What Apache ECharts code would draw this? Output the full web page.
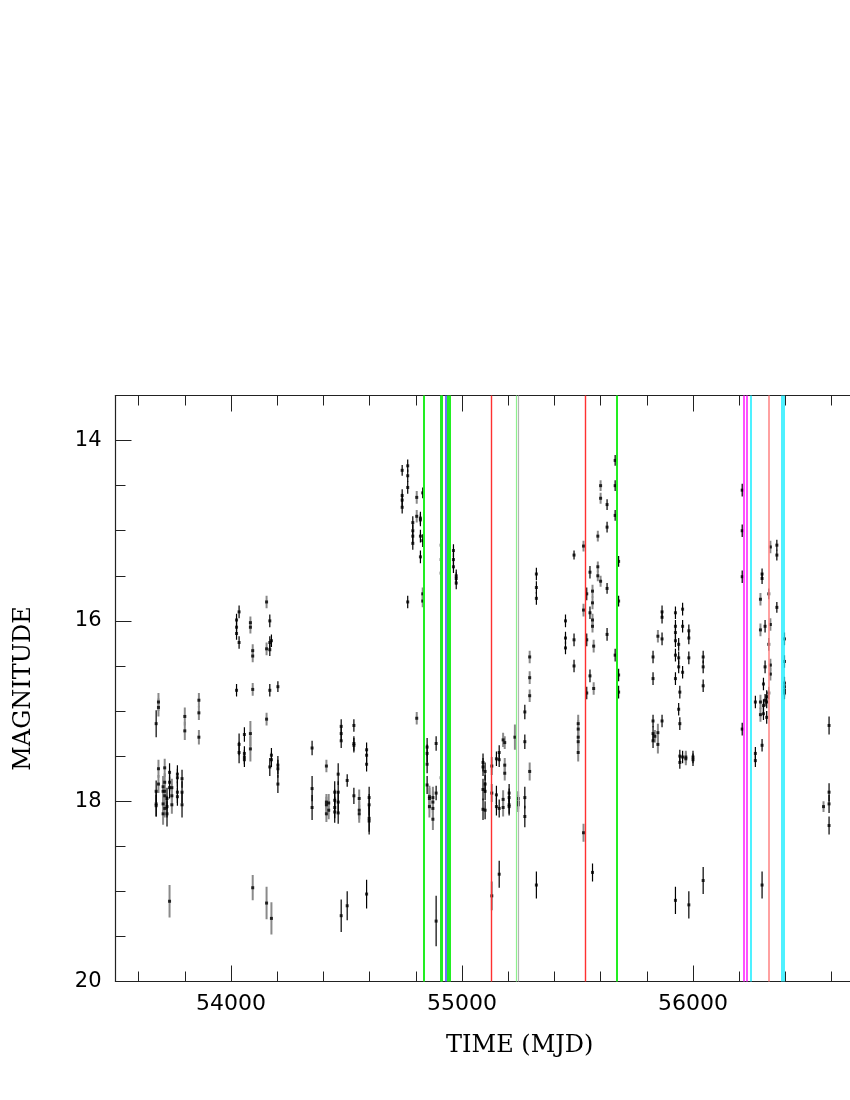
<!DOCTYPE html>
<html>
<head>
<meta charset="utf-8">
<script src="https://cdn.jsdelivr.net/npm/echarts@6/dist/echarts.min.js"></script>
<style>
  html, body { margin: 0; background: #fff; }
  #chart { width: 850px; height: 1100px; }
</style>
</head>
<body>
<div id="chart"></div>
<script>
// tick positions
const xMajor = [54000, 55000, 56000, 57000]
const xMinor = [53600, 53800, 54200, 54400, 54600, 54800, 55200, 55400, 55600, 55800, 56200, 56400, 56600, 56800]
const yMajor = [14, 16, 18, 20]
const yMinor = [14.5, 15, 15.5, 16.5, 17, 17.5, 18.5, 19, 19.5]

// event epochs (MJD), grouped by marker colour
const greenEvents = [54834, 54909, 54914, 54940, 54945, 55668]
const blueEvents = [54928]
const redEvents = [55128, 55535]
const lightGreenEvents = [55236]
const greyEvents = [55245]
const magentaEvents = [56221, 56232]
const cyanEvents = [56248, 56383, 56392]
const salmonEvents = [56328]

// photometry [mjd, mag, err] - first data set (black bars)
const blackPts = [
  [53676, 17.14, 0.15], [53676, 17.89, 0.12], [53676, 18.03, 0.14], [53676, 18.05, 0.12],
  [53723, 17.97, 0.12], [53723, 18.06, 0.12], [53723, 18.14, 0.14],
  [53734, 17.68, 0.1], [53734, 17.79, 0.1], [53734, 17.85, 0.12],
  [53768, 17.70, 0.1], [53768, 17.74, 0.1], [53768, 17.90, 0.12], [53768, 17.95, 0.1],
  [53788, 17.75, 0.1], [53788, 17.90, 0.12], [53788, 18.04, 0.14],
  [54024, 15.99, 0.07], [54024, 16.07, 0.07], [54024, 16.14, 0.07], [54024, 16.77, 0.07],
  [54035, 15.90, 0.07], [54035, 16.24, 0.07], [54035, 17.37, 0.12], [54035, 17.46, 0.12],
  [54058, 17.26, 0.08], [54058, 17.47, 0.08], [54058, 17.51, 0.08], [54058, 17.54, 0.08],
  [54168, 16.00, 0.07], [54168, 16.24, 0.07], [54168, 16.32, 0.07], [54168, 16.77, 0.07], [54168, 17.62, 0.1],
  [54175, 16.22, 0.07], [54175, 17.49, 0.08], [54175, 17.54, 0.08],
  [54203, 16.73, 0.06], [54203, 17.60, 0.1], [54203, 17.64, 0.1], [54203, 17.81, 0.1],
  [54351, 17.41, 0.08], [54351, 17.86, 0.14], [54351, 18.07, 0.14],
  [54449, 17.90, 0.12], [54449, 17.99, 0.12], [54449, 18.07, 0.12], [54449, 18.12, 0.12],
  [54464, 17.70, 0.12], [54464, 17.90, 0.12], [54464, 18.01, 0.12], [54464, 18.13, 0.12],
  [54477, 17.17, 0.08], [54477, 17.25, 0.08], [54477, 17.33, 0.08],
  [54503, 17.77, 0.07],
  [54532, 17.16, 0.07], [54532, 17.36, 0.08], [54532, 17.38, 0.08], [54532, 17.94, 0.09],
  [54587, 17.43, 0.08], [54587, 17.49, 0.08], [54587, 17.59, 0.08],
  [54598, 17.96, 0.12], [54598, 18.04, 0.12], [54598, 18.19, 0.15], [54598, 18.22, 0.15],
  [54477, 19.27, 0.18], [54503, 19.16, 0.16], [54587, 19.03, 0.16],
  [54741, 14.33, 0.06], [54741, 14.61, 0.07], [54741, 14.66, 0.07], [54741, 14.74, 0.07],
  [54765, 14.28, 0.07], [54765, 14.39, 0.07], [54765, 14.52, 0.07], [54765, 15.79, 0.07],
  [54787, 14.91, 0.07], [54787, 15.00, 0.07], [54787, 15.06, 0.07], [54787, 15.14, 0.07],
  [54820, 14.86, 0.07], [54820, 14.88, 0.07], [54820, 15.06, 0.07], [54820, 15.29, 0.07],
  [54830, 14.58, 0.06], [54830, 15.11, 0.07],
  [54910, 15.16, 0.07], [54910, 15.32, 0.07], [54910, 15.47, 0.07],
  [54942, 14.27, 0.06], [54942, 14.34, 0.06],
  [54963, 15.22, 0.07], [54963, 15.32, 0.07], [54963, 15.40, 0.07],
  [54975, 15.50, 0.07], [54975, 15.53, 0.07], [54975, 15.58, 0.07],
  [54849, 17.40, 0.1], [54849, 17.47, 0.1], [54849, 17.59, 0.1], [54849, 17.82, 0.1],
  [54888, 17.36, 0.08], [54888, 17.91, 0.08], [54888, 19.33, 0.28],
  [54910, 17.74, 0.08],
  [55091, 17.57, 0.1], [55091, 17.62, 0.1], [55091, 17.87, 0.12], [55091, 18.09, 0.12],
  [55100, 17.67, 0.1], [55100, 17.81, 0.1], [55100, 17.89, 0.1], [55100, 18.10, 0.1],
  [55149, 17.53, 0.08], [55149, 17.93, 0.1], [55149, 18.06, 0.1],
  [55161, 17.46, 0.08], [55161, 17.54, 0.08], [55161, 18.08, 0.1], [55161, 18.81, 0.15],
  [55204, 17.91, 0.1], [55204, 17.96, 0.1], [55204, 18.04, 0.1], [55204, 18.06, 0.1],
  [55272, 17.01, 0.08], [55272, 17.34, 0.08], [55272, 17.96, 0.12], [55272, 18.17, 0.12],
  [55322, 18.93, 0.15], [55322, 15.48, 0.07], [55322, 15.63, 0.07], [55322, 15.75, 0.07],
  [55448, 16.00, 0.07], [55448, 16.19, 0.07], [55448, 16.30, 0.07],
  [55485, 15.27, 0.05], [55485, 16.21, 0.07], [55485, 16.50, 0.07],
  [55540, 15.70, 0.07], [55540, 16.21, 0.07], [55540, 16.80, 0.07],
  [55554, 15.46, 0.07], [55554, 15.91, 0.07], [55554, 16.61, 0.07],
  [55628, 14.71, 0.06], [55628, 14.96, 0.06], [55628, 15.64, 0.06], [55628, 16.15, 0.07],
  [55663, 14.22, 0.06], [55663, 14.50, 0.06], [55663, 14.83, 0.06], [55663, 16.38, 0.07],
  [55678, 15.34, 0.06], [55678, 15.78, 0.06], [55678, 16.60, 0.07], [55678, 16.79, 0.07],
  [55565, 18.79, 0.1],
  [55827, 16.40, 0.07], [55827, 16.64, 0.07], [55827, 17.11, 0.07], [55827, 17.25, 0.08], [55827, 17.33, 0.08],
  [55866, 15.90, 0.07], [55866, 15.96, 0.07], [55866, 16.20, 0.07], [55866, 17.11, 0.07],
  [55924, 15.91, 0.07], [55924, 16.06, 0.07], [55924, 16.13, 0.07], [55924, 16.22, 0.07], [55924, 16.38, 0.07], [55924, 16.64, 0.07], [55924, 19.10, 0.15],
  [55938, 16.26, 0.07], [55938, 16.41, 0.07], [55938, 16.51, 0.07], [55938, 16.98, 0.07],
  [55943, 16.79, 0.07], [55943, 17.14, 0.07], [55943, 17.50, 0.07], [55943, 17.57, 0.07],
  [55955, 15.87, 0.07], [55955, 16.06, 0.07], [55955, 16.57, 0.07], [55955, 17.51, 0.07],
  [55982, 16.11, 0.07], [55982, 16.19, 0.07], [55982, 16.41, 0.07], [55982, 19.15, 0.15],
  [56000, 17.51, 0.07], [56000, 17.54, 0.07],
  [56044, 16.40, 0.07], [56044, 16.51, 0.07], [56044, 16.72, 0.07], [56044, 18.88, 0.15],
  [56213, 14.55, 0.07], [56213, 15.00, 0.07], [56213, 15.51, 0.07], [56213, 17.20, 0.07],
  [56270, 16.90, 0.07], [56270, 17.47, 0.07], [56270, 17.55, 0.07],
  [56299, 15.48, 0.06], [56299, 15.53, 0.06], [56299, 17.38, 0.07], [56299, 18.93, 0.15],
  [56305, 16.70, 0.07], [56305, 16.94, 0.07], [56305, 17.03, 0.07],
  [56312, 16.06, 0.07], [56312, 16.51, 0.07], [56312, 16.88, 0.07],
  [56319, 16.84, 0.07], [56319, 16.90, 0.07], [56319, 17.07, 0.07],
  [56328, 15.70, 0.06], [56328, 16.26, 0.07], [56328, 16.80, 0.07],
  [56363, 15.16, 0.06], [56363, 15.27, 0.06], [56363, 15.85, 0.06],
  [56396, 16.20, 0.07], [56396, 16.45, 0.07], [56396, 16.69, 0.07], [56396, 16.73, 0.07], [56396, 16.77, 0.07], [56396, 16.80, 0.07],
  [56589, 17.16, 0.1], [56589, 17.90, 0.1], [56589, 18.03, 0.1], [56589, 18.27, 0.1]
]

// second data set (grey bars)
const greyPts = [
  [53686, 16.90, 0.1], [53686, 16.96, 0.1], [53686, 17.64, 0.1], [53686, 17.81, 0.1],
  [53706, 17.84, 0.12], [53706, 17.89, 0.12], [53706, 18.03, 0.12], [53706, 18.14, 0.12],
  [53713, 17.63, 0.1], [53713, 17.79, 0.1], [53713, 17.89, 0.1], [53713, 17.94, 0.1], [53713, 18.08, 0.1],
  [53744, 17.85, 0.1], [53744, 17.94, 0.1], [53744, 18.04, 0.1],
  [53800, 17.06, 0.1], [53800, 17.22, 0.1],
  [53861, 16.88, 0.08], [53861, 17.02, 0.08], [53861, 17.29, 0.08],
  [53734, 19.11, 0.18],
  [54084, 16.02, 0.07], [54084, 16.07, 0.07], [54084, 17.25, 0.14], [54084, 17.42, 0.14],
  [54094, 16.33, 0.07], [54094, 16.39, 0.07], [54094, 16.76, 0.07],
  [54154, 15.79, 0.07], [54154, 16.31, 0.07], [54154, 17.09, 0.07],
  [54094, 18.96, 0.14], [54154, 19.13, 0.18], [54175, 19.30, 0.18],
  [54413, 17.61, 0.07], [54413, 18.01, 0.09], [54413, 18.04, 0.09], [54413, 18.14, 0.09],
  [54423, 18.02, 0.1], [54423, 18.10, 0.1],
  [54555, 17.97, 0.1], [54555, 18.10, 0.1], [54555, 18.14, 0.1],
  [54804, 14.63, 0.07], [54804, 14.84, 0.07], [54830, 15.70, 0.07], [54830, 15.78, 0.07],
  [54804, 17.08, 0.07],
  [54859, 17.95, 0.12], [54859, 17.97, 0.12], [54859, 18.06, 0.12],
  [54874, 17.96, 0.12], [54874, 18.01, 0.12], [54874, 18.08, 0.12], [54874, 18.20, 0.12],
  [54942, 19.02, 0.2],
  [55129, 17.61, 0.1], [55129, 17.91, 0.1], [55129, 19.05, 0.16],
  [55178, 17.32, 0.08], [55178, 17.98, 0.1], [55178, 18.07, 0.1],
  [55185, 17.35, 0.07], [55185, 17.60, 0.08], [55185, 17.69, 0.08],
  [55229, 17.29, 0.14],
  [55243, 17.97, 0.08], [55243, 18.01, 0.08], [55243, 18.04, 0.08],
  [55293, 17.67, 0.1], [55293, 16.40, 0.07], [55293, 16.63, 0.07], [55293, 16.83, 0.07],
  [55526, 15.17, 0.06], [55526, 15.88, 0.07], [55526, 18.35, 0.1],
  [55565, 15.67, 0.07], [55565, 15.80, 0.07], [55565, 15.99, 0.07], [55565, 16.06, 0.07],
  [55570, 16.28, 0.07], [55570, 16.75, 0.07],
  [55588, 15.06, 0.06], [55588, 15.40, 0.06], [55588, 15.50, 0.06],
  [55600, 14.50, 0.06], [55600, 14.64, 0.06], [55600, 15.56, 0.06],
  [55503, 17.14, 0.1], [55503, 17.20, 0.1], [55503, 17.29, 0.1], [55503, 17.34, 0.1], [55503, 17.46, 0.1],
  [55848, 16.17, 0.07], [55848, 17.24, 0.1], [55848, 17.37, 0.1], [55835, 17.28, 0.07],
  [55969, 17.51, 0.07], [55969, 17.53, 0.07],
  [56292, 15.76, 0.07], [56292, 16.10, 0.07], [56292, 16.90, 0.08], [56292, 17.04, 0.08],
  [56335, 15.18, 0.07], [56335, 16.04, 0.07], [56335, 16.49, 0.07], [56335, 16.59, 0.07],
  [56565, 18.06, 0.06]
]

const axisColor = '#222'
const labelFont = 'DejaVu Sans'
const titleFont = 'DejaVu Serif'

function xAxisOf(position, ticks, len, withLabel) {
  return {
    type: 'value',
    position: position,
    min: 53500,
    max: 57000,
    gridIndex: 0,
    axisLine: { show: withLabel, lineStyle: { color: axisColor, width: 1.2 } },
    axisTick: { show: true, inside: true, length: len, customValues: ticks, lineStyle: { color: axisColor, width: 1 } },
    axisLabel: withLabel && position === 'bottom'
      ? { show: true, customValues: xMajor, formatter: v => String(v), color: '#000', fontFamily: labelFont, fontSize: 22, margin: 12 }
      : { show: false },
    splitLine: { show: false },
    name: withLabel && position === 'bottom' ? 'TIME (MJD)' : '',
    nameLocation: 'middle',
    nameGap: 52,
    nameTextStyle: { color: '#000', fontFamily: titleFont, fontSize: 24 }
  }
}

function yAxisOf(ticks, len, withLabel) {
  return {
    type: 'value',
    position: 'left',
    inverse: true,
    min: 13.5,
    max: 20,
    gridIndex: 0,
    axisLine: { show: withLabel, lineStyle: { color: axisColor, width: 1.2 } },
    axisTick: { show: true, inside: true, length: len, customValues: ticks, lineStyle: { color: axisColor, width: 1 } },
    axisLabel: withLabel
      ? { show: true, customValues: yMajor, formatter: v => String(v), color: '#000', fontFamily: labelFont, fontSize: 21, margin: 14 }
      : { show: false },
    splitLine: { show: false },
    name: withLabel ? 'MAGNITUDE' : '',
    nameLocation: 'middle',
    nameRotate: 90,
    nameGap: 80,
    nameTextStyle: { color: '#000', fontFamily: titleFont, fontSize: 24 }
  }
}

function eventSeries(vals, color, width) {
  return {
    type: 'scatter',
    data: [],
    xAxisIndex: 0,
    yAxisIndex: 0,
    silent: true,
    z: 1,
    markLine: {
      symbol: ['none', 'none'],
      silent: true,
      animation: false,
      label: { show: false },
      emphasis: { disabled: true },
      lineStyle: { color: color, width: width, type: 'solid', opacity: 1 },
      data: vals.map(v => ({ xAxis: v }))
    }
  }
}

function errorSeries(pts, color, width) {
  return {
    type: 'custom',
    xAxisIndex: 0,
    yAxisIndex: 0,
    z: 2,
    clip: true,
    silent: true,
    data: pts,
    encode: { x: 0, y: 1 },
    renderItem(params, api) {
      const x = api.value(0)
      const y = api.value(1)
      const e = api.value(2)
      const a = api.coord([x, y - e])
      const b = api.coord([x, y + e])
      return {
        type: 'line',
        shape: { x1: a[0], y1: a[1], x2: b[0], y2: b[1] },
        style: { stroke: color, lineWidth: width }
      }
    }
  }
}

function pointSeries(pts) {
  return {
    type: 'scatter',
    xAxisIndex: 0,
    yAxisIndex: 0,
    z: 3,
    silent: true,
    symbol: 'rect',
    symbolSize: 3,
    itemStyle: { color: '#000' },
    data: pts.map(p => [p[0], p[1]])
  }
}

const chart = echarts.init(document.getElementById('chart'), null, { renderer: 'canvas' })
chart.setOption({
  animation: false,
  backgroundColor: '#fff',
  grid: { left: 115.5, top: 395.5, width: 808.5, height: 586, containLabel: false, outerBoundsMode: 'none' },
  xAxis: [
    xAxisOf('bottom', xMajor, 16, true),
    xAxisOf('bottom', xMinor, 10, false),
    xAxisOf('top', xMajor, 16, true),
    xAxisOf('top', xMinor, 10, false)
  ],
  yAxis: [
    yAxisOf(yMajor, 16, true),
    yAxisOf(yMinor, 10, false)
  ],
  series: [
    eventSeries(greenEvents, '#22ee22', 2),
    eventSeries(blueEvents, '#4b4bff', 1.6),
    eventSeries(redEvents, '#ff3030', 1.4),
    eventSeries(lightGreenEvents, '#8ef08e', 1.2),
    eventSeries(greyEvents, '#b4b4b4', 1.2),
    eventSeries(magentaEvents, '#ff22ff', 1.6),
    eventSeries(cyanEvents, '#22eeff', 1.6),
    eventSeries(salmonEvents, '#ff8a8a', 1.6),
    errorSeries(greyPts, '#8a8a8a', 2),
    errorSeries(blackPts, '#000', 1.2),
    pointSeries(greyPts),
    pointSeries(blackPts)
  ]
})
</script>
</body>
</html>
